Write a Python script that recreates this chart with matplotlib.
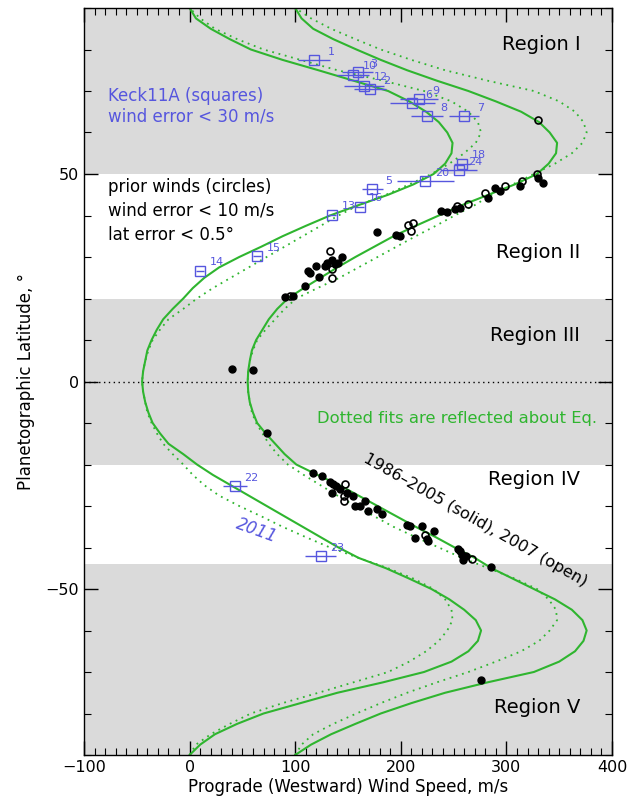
import numpy as np
import matplotlib
matplotlib.use("Agg")
import matplotlib.pyplot as plt
from matplotlib.ticker import MultipleLocator

# symmetric-model fits (latitude in deg, wind in m/s)
fit_lat = [90, 87.5, 85, 82.5, 80, 77.5, 75, 72.5, 70, 67.5, 65, 62.5, 60, 57.5, 55, 52.5, 50,
           47.5, 45, 42.5, 40, 37.5, 35, 32.5, 30, 27.5, 25, 22.5, 20, 17.5, 15, 12.5, 10, 7.5, 5, 2.5, 0,
           -2.5, -5, -7.5, -10, -12.5, -15, -17.5, -20, -22.5, -25, -27.5, -30, -32.5, -35, -37.5, -40,
           -42.5, -45, -47.5, -50, -52.5, -55, -57.5, -60, -62.5, -65, -67.5, -70, -72.5, -75, -77.5,
           -80, -82.5, -85, -87.5, -90]
# 1986-2005 fit
fit_old = [100, 106, 117, 136, 158, 181, 206, 234, 264, 290, 314, 331, 341, 348, 347, 340, 329,
           308, 283, 258, 236, 214, 193, 175, 157, 140, 124, 108, 93, 83, 75, 69, 63, 59, 57, 55.5, 55,
           55.5, 57, 60, 64, 72, 81, 90, 101, 121, 142, 160, 178, 196, 214, 233, 251,
           270, 286, 306, 326, 346, 362, 372, 376, 373, 365, 350, 326, 282, 242, 210,
           181, 157, 134, 115, 100]
# 2011 fit (offset -100 m/s)
fit_new = [0, 6, 20, 38, 58, 88, 122, 155, 188, 208, 224, 236, 244, 249, 248, 242, 231,
           212, 188, 160, 133, 110, 88, 68, 47, 28, 14, 3, -6, -16, -25, -31, -36, -40, -42, -44, -45,
           -44, -42, -39, -35, -28, -20, -6, 7, 22, 39, 56, 73, 90, 107, 124, 141,
           160, 186, 208, 229, 246, 260, 271, 276, 273, 264, 248, 222, 183, 140, 105,
           70, 45, 24, 10, 0]

# Keck 2011 feature tracks (offset by -100 m/s)
sq_id = [1, 3, 10, 12, 2, 9, 6, 8, 7, 18, 24, 20, 5, 16, 13, 15, 14, 22, 23]
sq_lat = [77.4, 74.6, 73.9, 71.3, 70.5, 68.1, 67.0, 63.9, 63.9, 52.5, 50.9, 48.3, 46.4, 42.1, 40.2, 30.2, 26.7, -25.2, -42.1]
sq_u = [118, 159, 155, 165, 171, 217, 211, 225, 260, 258, 255, 223, 173, 161, 135, 64, 10, 43, 124]
sq_err = [15, 15, 15, 19, 15, 18, 21, 15, 14, 8, 17, 27, 10, 4, 4, 4, 4, 11, 15]

# prior winds 1986-2005 (filled)
old_lat = [20.3, 20.7, 23.1, 26.6, 26.2, 27.8, 25.2, 27.8, 28.6, 29.2, 28.2, 28.6, 30.0, 36.1, 35.4, 35.0,
           41.0, 40.9, 41.6, 41.8, 44.3, 46.7, 45.9, 47.1, 49.1, 47.9, 2.9, 2.7, -12.5,
           -22.0, -22.8, -24.3, -24.8, -25.2, -26.8, -26.0, -26.8, -27.5, -30.0, -30.0, -28.8, -31.2, -30.8, -32.0,
           -34.5, -34.9, -37.7, -34.7, -38.0, -38.5, -36.1, -40.3, -40.9, -41.7, -42.9, -42.1, -44.7, -71.9]
old_u = [90, 98, 109, 112, 114, 120, 123, 128, 130, 135, 138, 141, 144, 177, 195, 199,
         238, 244, 251, 256, 283, 289, 294, 313, 330, 335, 40, 60, 73,
         117, 125, 133, 136, 139, 135, 142, 149, 155, 157, 161, 166, 169, 177, 182,
         206, 209, 213, 220, 225, 226, 231, 254, 256, 258, 259, 262, 285, 276]

# 2007 winds (open)
new_lat = [20.7, 31.4, 27.0, 25.0, 37.6, 36.2, 38.1, 42.4, 42.7, 45.5, 47.1, 48.3, 50.1, 63.1,
           -24.6, -28.8, -27.7, -36.9, -42.7]
new_u = [95, 133, 135, 135, 207, 210, 212, 253, 264, 280, 299, 315, 329, 330,
         147, 146, 146, 223, 267]

green = "#2fb52f"
blue = "#5656de"
gray = "#dadada"

fig = plt.figure(figsize=(6.32, 8.07), dpi=100)
ax = fig.add_axes([84 / 632, 1 - 755 / 807, 528 / 632, 747 / 807])

for lo, hi in [(50, 90), (-20, 20), (-90, -44)]:
    ax.axhspan(lo, hi, color=gray, lw=0, zorder=0)
ax.axhline(0, color="k", ls=(0, (1, 2.5)), lw=1, zorder=1)

lat = np.array(fit_lat)
for u in (fit_old, fit_new):
    ax.plot(u, lat, color=green, lw=1.5, zorder=2)
    # dotted = same fit reflected about the equator
    ax.plot(u, -lat, color=green, lw=1.3, ls=(0, (1, 2.6)), zorder=2)

ax.errorbar(sq_u, sq_lat, xerr=sq_err, fmt="s", ms=6.5, mfc="none", mec=blue,
            mew=1, ecolor=blue, elinewidth=1, capsize=0, zorder=4)
for i, x, y in zip(sq_id, sq_u, sq_lat):
    ax.annotate(str(i), (x, y), xytext=(12, 6), textcoords="offset points",
                color=blue, fontsize=8, ha="center", va="center", zorder=5)

ax.plot(old_u, old_lat, "o", ms=5, color="k", zorder=3)
ax.plot(new_u, new_lat, "o", ms=5, mfc="none", mec="k", mew=1.2, zorder=3)

ax.set_xlim(-100, 400)
ax.set_ylim(-90, 90)
ax.xaxis.set_major_locator(MultipleLocator(100))
ax.xaxis.set_minor_locator(MultipleLocator(10))
ax.yaxis.set_major_locator(MultipleLocator(50))
ax.yaxis.set_minor_locator(MultipleLocator(10))
ax.tick_params(which="both", direction="in", top=True, right=True, labelsize=11.5)
ax.tick_params(which="major", length=10, width=1)
ax.tick_params(which="minor", length=5, width=0.8)
for s in ax.spines.values():
    s.set_linewidth(1)

ax.set_xlabel("Prograde (Westward) Wind Speed, m/s", fontsize=12, labelpad=2.5)
ax.set_ylabel("Planetographic Latitude, °", fontsize=12, labelpad=7.5)

for txt, y in [("Region I", 81.2), ("Region II", 31.1), ("Region III", 11.1), ("Region IV", -23.6), ("Region V", -78.6)]:
    ax.text(370, y, txt, fontsize=14, ha="right", va="center", zorder=5)

ax.text(-77, 66.3, "Keck11A (squares)\nwind error < 30 m/s", color=blue, fontsize=12,
        ha="left", va="center", linespacing=1.2)
ax.text(-77, 41.1, "prior winds (circles)\nwind error < 10 m/s\nlat error < 0.5°", fontsize=12,
        ha="left", va="center", linespacing=1.4)
ax.text(386, -9, "Dotted fits are reflected about Eq.", color=green, fontsize=11.8, ha="right", va="center")
ax.text(271, -33.3, "1986\u20132005 (solid), 2007 (open)", fontsize=11.6, rotation=-29.5,
        ha="center", va="center", zorder=5)
ax.text(63, -36, "2011", color=blue, fontsize=12, style="italic", rotation=-20,
        ha="center", va="center")

fig.savefig("out.png", dpi=100)
